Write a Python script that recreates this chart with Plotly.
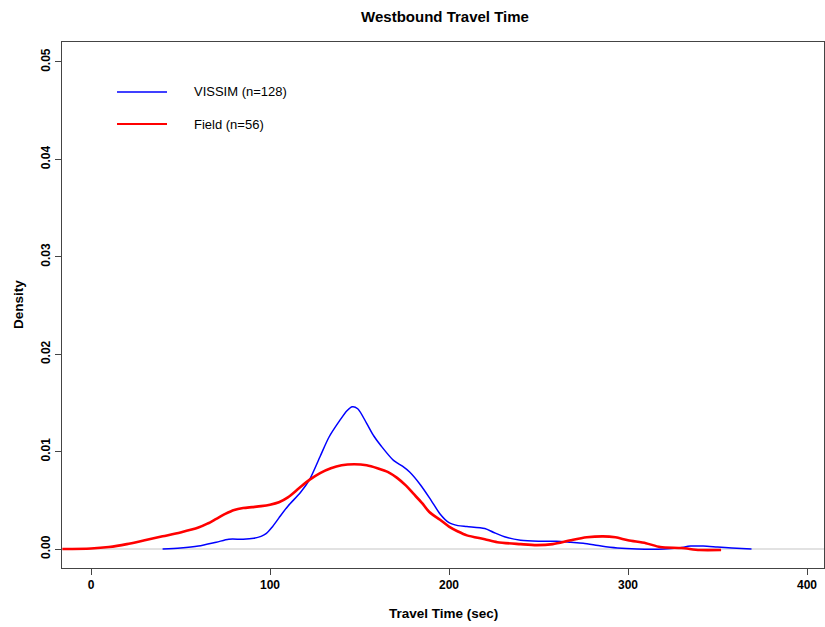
import plotly.graph_objects as go

# Data
vissim_x = [40, 50, 60, 70, 77, 85, 91, 95, 98, 101, 105, 110, 117, 122, 128, 133, 139, 143, 146, 149, 154,
            158, 162, 169, 174, 178, 184, 190, 195, 200, 205, 210, 220, 225, 232, 240, 250, 260, 268, 275,
            285, 294, 305, 320, 328, 335, 342, 350, 358, 369]
vissim_y = [0, 0.0001, 0.0003, 0.0007, 0.001, 0.001, 0.0011, 0.0013, 0.0016, 0.0022, 0.0032, 0.0044, 0.0058,
            0.0071, 0.0095, 0.0115, 0.0132, 0.0142, 0.0146, 0.0144, 0.0129, 0.0116, 0.0106, 0.0091, 0.0085,
            0.0079, 0.0066, 0.0050, 0.0036, 0.0027, 0.0024, 0.0023, 0.0021, 0.0017, 0.0012, 0.0009, 0.0008,
            0.0008, 0.0007, 0.0006, 0.0003, 0.0001, 0.0, 0.0, 0.0001, 0.0003, 0.0003, 0.0002, 0.0001, 0.0]

field_x = [-16, 0, 10, 20, 30, 40, 50, 60, 65, 70, 75, 80, 85, 90, 95, 100, 105, 110, 116, 122, 128, 134, 140,
           147, 154, 160, 166, 171, 176, 180, 185, 189, 195, 200, 205, 210, 220, 227, 240, 249, 258, 268, 277,
           286, 293, 300, 310, 318, 330, 340, 352]
field_y = [0, 0.00005, 0.0002, 0.0005, 0.0009, 0.0013, 0.0017, 0.0022, 0.0026, 0.0031, 0.0036, 0.0040, 0.0042,
           0.0043, 0.0044, 0.00455, 0.0048, 0.0053, 0.0062, 0.0071, 0.0078, 0.0083, 0.0086, 0.0087, 0.0086,
           0.0083, 0.0079, 0.0073, 0.0065, 0.0057, 0.0047, 0.0038, 0.0030, 0.0023, 0.0018, 0.0014, 0.0010,
           0.0007, 0.0005, 0.0004, 0.0005, 0.0009, 0.0012, 0.0013, 0.0012, 0.0009, 0.0006, 0.0002, 0.0001,
           -0.0001, -0.0001]

x_ticks = [0, 100, 200, 300, 400]
y_ticks = [0.0, 0.01, 0.02, 0.03, 0.04, 0.05]
y_tick_labels = ["0.00", "0.01", "0.02", "0.03", "0.04", "0.05"]
series_names = ["VISSIM (n=128)", "Field (n=56)"]

FONT = "Liberation Sans, Arial, sans-serif"
AXC = "#444444"

fig = go.Figure()
fig.add_trace(go.Scatter(x=vissim_x, y=vissim_y, mode="lines", name=series_names[0],
                         line=dict(color="#0000ff", width=1.5, shape="spline", smoothing=0.8),
                         showlegend=False))
fig.add_trace(go.Scatter(x=field_x, y=field_y, mode="lines", name=series_names[1],
                         line=dict(color="#ff0000", width=2.6, shape="spline", smoothing=0.8),
                         showlegend=False))

# zero reference line
fig.add_shape(type="line", xref="paper", yref="y", x0=0, x1=1, y0=0, y1=0,
              line=dict(color="#d9d9d9", width=1.5), layer="below")

# legend drawn manually
for i, (name, col, w) in enumerate(zip(series_names, ["#0000ff", "#ff0000"], [1.5, 2])):
    yp = 0.905 - i * 0.061
    fig.add_shape(type="line", xref="paper", yref="paper", x0=0.0722, x1=0.1378, y0=yp, y1=yp,
                  line=dict(color=col, width=w))
    fig.add_annotation(xref="paper", yref="paper", x=0.1706, y=yp, text=name, showarrow=False,
                       xanchor="left", yanchor="middle", font=dict(family=FONT, size=13, color="#000"))

# axis titles
fig.add_annotation(xref="paper", yref="paper", x=0.5, y=-45 / 526, text="<b>Travel Time (sec)</b>",
                   showarrow=False, xanchor="center", yanchor="middle",
                   font=dict(family=FONT, size=13.5, color="#000"))
fig.add_annotation(xref="paper", yref="paper", x=-44 / 762, y=0.5, text="<b>Density</b>", textangle=-90,
                   showarrow=False, xanchor="center", yanchor="middle",
                   font=dict(family=FONT, size=13.5, color="#000"))

fig.update_layout(
    width=825, height=627,
    margin=dict(l=62, r=1, t=42, b=59, autoexpand=False),
    paper_bgcolor="white", plot_bgcolor="white",
    title=dict(text="<b>Westbound Travel Time</b>", x=445 / 825, xanchor="center",
               y=1 - 17 / 627, yanchor="middle", font=dict(family=FONT, size=15, color="#000")),
    font=dict(family=FONT, color="#000"),
)
fig.update_xaxes(range=[-16.2, 409.5], tickvals=x_ticks, ticktext=[f"<b>{t}</b>" for t in x_ticks],
                 automargin=False,
                 showgrid=False, zeroline=False, showline=True, linecolor=AXC, linewidth=1, mirror=True,
                 ticks="outside", ticklen=6, tickcolor=AXC, tickfont=dict(size=12, family=FONT))
fig.update_yaxes(range=[-0.00195, 0.05205], tickvals=y_ticks, ticktext=[f"<b>{t}</b>" for t in y_tick_labels],
                 automargin=False,
                 tickangle=-90, showgrid=False, zeroline=False, showline=True, linecolor=AXC, linewidth=1,
                 mirror=True, ticks="outside", ticklen=6, tickcolor=AXC, tickfont=dict(size=12, family=FONT))

fig.write_html("out.html", config={"displayModeBar": False},
               post_script="document.body.style.margin='0';document.body.style.overflow='hidden';")
